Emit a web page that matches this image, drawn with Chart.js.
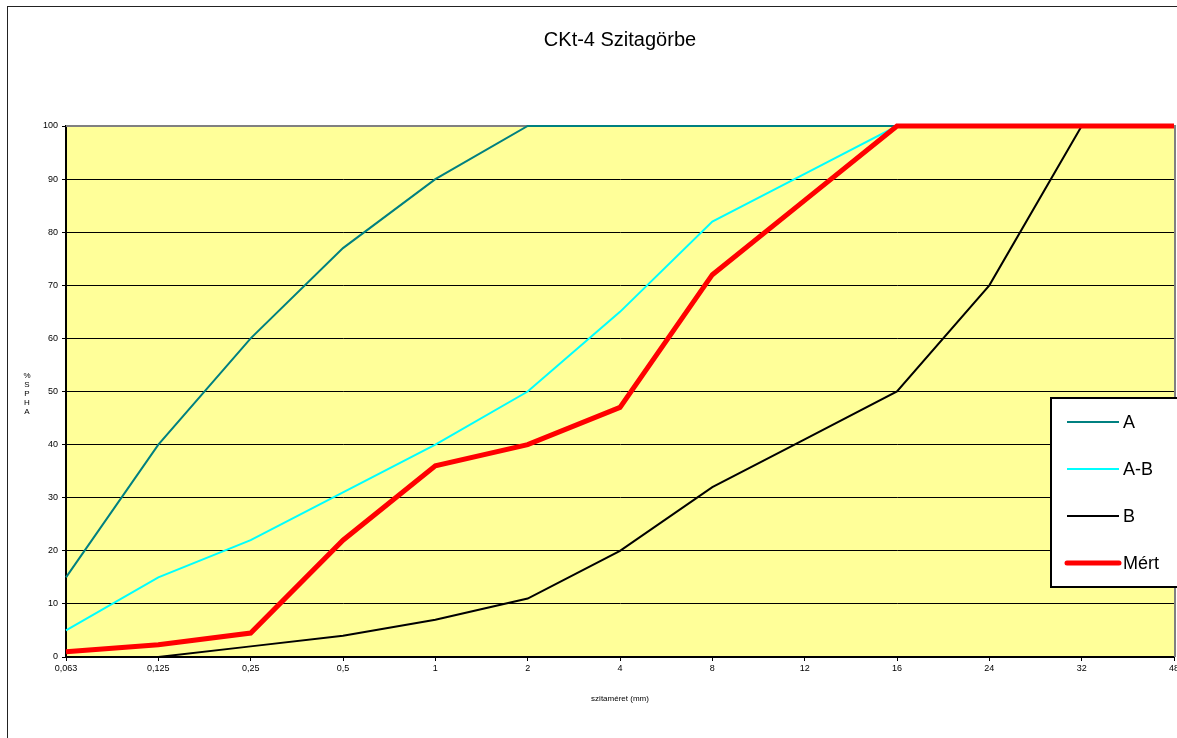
<!DOCTYPE html>
<html>
<head>
<meta charset="utf-8">
<script src="https://cdn.jsdelivr.net/npm/chart.js@4.4.0/dist/chart.umd.min.js"></script>
<style>
  html, body { margin: 0; padding: 0; background: #fff; }
  canvas { display: block; }
</style>
</head>
<body>
<canvas id="chart" width="1177" height="738"></canvas>
<script>
// sieve sizes (mm)
const sieves = ['0,063', '0,125', '0,25', '0,5', '1', '2', '4', '8', '12', '16', '24', '32', '48'];
const seriesNames = ['A', 'A-B', 'B', 'Mért'];
const limitA = [15, 40, 60, 77, 90, 100, 100, 100, 100, 100, 100, 100, 100];
const limitAB = [5, 15, 22, 31, 40, 50, 65, 82, 91, 100, 100, 100, 100];
const limitB = [0, 0, 2, 4, 7, 11, 20, 32, 41, 50, 70, 100, 100];
const measured = [1, 2.3, 4.5, 22, 36, 40, 47, 72, 86, 100, 100, 100, 100];
const yTicks = [0, 10, 20, 30, 40, 50, 60, 70, 80, 90, 100];

const FONT = 'Arial, "Liberation Sans", sans-serif';

// yellow plot area, grey frame, outer border, stacked y label, legend box
const excelLook = {
    id: 'excelLook',
    beforeDraw: function (chart) {
        const ctx = chart.ctx;
        const a = chart.chartArea;
        ctx.save();
        ctx.fillStyle = '#FFFF99';
        ctx.fillRect(a.left, a.top, a.right - a.left, a.bottom - a.top);
        ctx.strokeStyle = '#222';
        ctx.lineWidth = 1;
        ctx.strokeRect(7.5, 6.5, chart.width + 10, chart.height + 10);
        ctx.restore();
    },
    beforeDatasetsDraw: function (chart) {
        const ctx = chart.ctx;
        const a = chart.chartArea;
        ctx.save();
        ctx.strokeStyle = '#808080';
        ctx.lineWidth = 2;
        ctx.beginPath();
        ctx.moveTo(a.left, a.top);
        ctx.lineTo(a.right + 1, a.top);
        ctx.lineTo(a.right + 1, a.bottom);
        ctx.stroke();
        ctx.restore();
    },
    afterDraw: function (chart) {
        const ctx = chart.ctx;
        ctx.save();
        // stacked y axis label
        ctx.fillStyle = '#000';
        ctx.font = '8px ' + FONT;
        ctx.textAlign = 'center';
        ctx.textBaseline = 'middle';
        const letters = ['%', 'S', 'P', 'H', 'A'];
        letters.forEach((ch, i) => ctx.fillText(ch, 27, 376 + i * 9));

        // legend
        const bx = 1051, by = 398, bw = 135, bh = 189;
        ctx.fillStyle = '#fff';
        ctx.fillRect(bx, by, bw, bh);
        ctx.strokeStyle = '#000';
        ctx.lineWidth = 2;
        ctx.strokeRect(bx, by, bw, bh);
        ctx.font = '18px ' + FONT;
        ctx.textAlign = 'left';
        chart.data.datasets.forEach((ds, i) => {
            const y = 422 + i * 47;
            ctx.strokeStyle = ds.borderColor;
            ctx.lineWidth = ds.borderWidth;
            ctx.lineCap = ds.borderWidth > 3 ? 'round' : 'butt';
            ctx.beginPath();
            ctx.moveTo(1067, y);
            ctx.lineTo(1119, y);
            ctx.stroke();
            ctx.fillStyle = '#000';
            ctx.fillText(ds.label, 1123, y + 1);
        });
        ctx.restore();
    }
};

const ctx = document.getElementById('chart').getContext('2d');
const chart = new Chart(ctx, {
    type: 'line',
    data: {
        labels: sieves,
        datasets: [
            { label: seriesNames[0], data: limitA, borderColor: '#008080', borderWidth: 2, order: 3 },
            { label: seriesNames[1], data: limitAB, borderColor: '#00FFFF', borderWidth: 2, order: 2 },
            { label: seriesNames[2], data: limitB, borderColor: '#000000', borderWidth: 2, order: 1 },
            { label: seriesNames[3], data: measured, borderColor: '#FF0000', borderWidth: 5, order: 0 }
        ]
    },
    options: {
        responsive: false,
        animation: false,
        events: [],
        layout: { padding: { left: 20, right: 3, top: 0, bottom: 34 } },
        elements: {
            point: { radius: 0 },
            line: { tension: 0, fill: false, borderJoinStyle: 'miter' }
        },
        datasets: { line: { clip: false } },
        plugins: {
            legend: { display: false },
            tooltip: { enabled: false },
            title: {
                display: true,
                text: 'CKt-4 Szitagörbe',
                fullSize: false,
                color: '#000',
                font: { family: FONT, size: 20, weight: 'normal', lineHeight: 1.2 },
                padding: { top: 28, bottom: 74 }
            }
        },
        scales: {
            x: {
                type: 'category',
                offset: false,
                grid: { drawOnChartArea: false, drawTicks: true, tickLength: 4, color: '#000' },
                border: { color: '#000', width: 2 },
                ticks: {
                    color: '#000',
                    font: { family: FONT, size: 9 },
                    padding: 2,
                    maxRotation: 0,
                    autoSkip: false
                },
                title: {
                    display: true,
                    text: 'szitaméret (mm)',
                    color: '#000',
                    font: { family: FONT, size: 8 },
                    padding: { top: 4, bottom: 0 }
                },
                afterFit: function (s) {
                    s.height = 47;
                    s.paddingLeft = 0;
                    s.paddingRight = 0;
                }
            },
            y: {
                min: 0,
                max: 100,
                afterBuildTicks: function (s) { s.ticks = yTicks.map(v => ({ value: v })); },
                grid: { color: '#000', lineWidth: 1, tickLength: 4 },
                border: { color: '#000', width: 2 },
                ticks: {
                    color: '#000',
                    font: { family: FONT, size: 9 },
                    padding: 4
                },
                afterFit: function (s) { s.width = 46; }
            }
        }
    },
    plugins: [excelLook]
});
</script>
</body>
</html>
